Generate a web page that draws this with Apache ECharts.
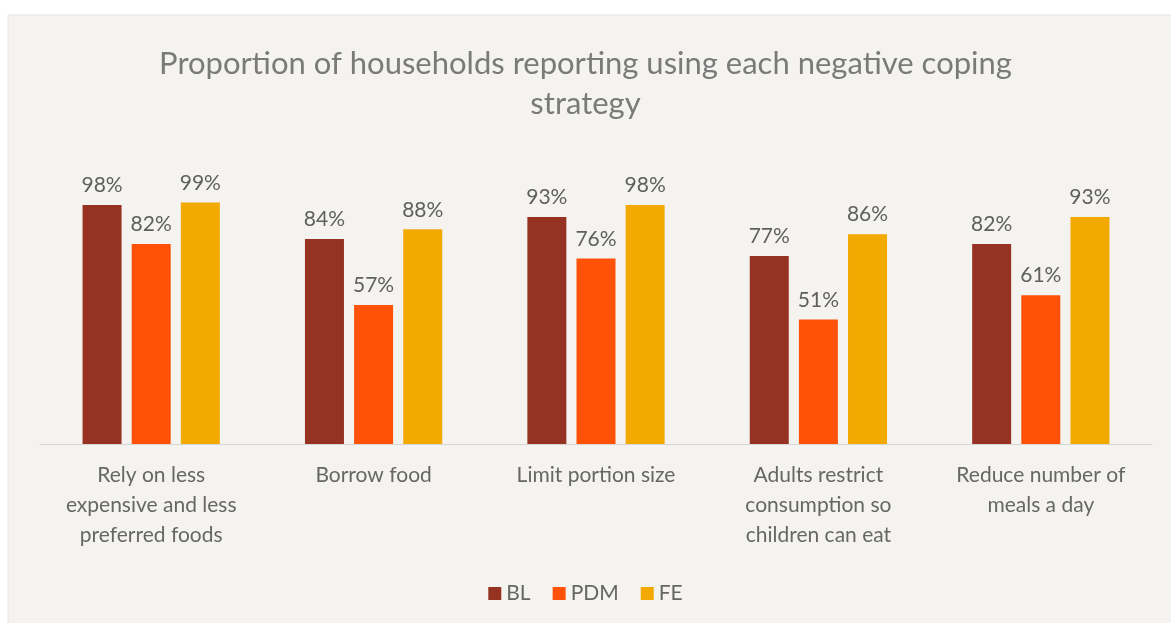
<!DOCTYPE html>
<html>
<head>
<meta charset="utf-8">
<script src="https://cdn.jsdelivr.net/npm/echarts@6/dist/echarts.min.js"></script>
<style>
  html, body { margin: 0; padding: 0; background: #ffffff; }
  #chart { width: 1171px; height: 623px; }
</style>
</head>
<body>
<div id="chart"></div>
<script>
// Coping strategies and the share of households using each (percent)
const categories = [
  'Rely on less\nexpensive and less\npreferred foods',
  'Borrow food',
  'Limit portion size',
  'Adults restrict\nconsumption so\nchildren can eat',
  'Reduce number of\nmeals a day'
];
const seriesNames = ['BL', 'PDM', 'FE'];
const blValues = [98, 84, 93, 77, 82];
const pdmValues = [82, 57, 76, 51, 61];
const feValues = [99, 88, 98, 86, 93];
const seriesColors = ['#963222', '#ff5208', '#f2a900'];

const FONT = 'Lato, "Open Sans", sans-serif';
const chart = echarts.init(document.getElementById('chart'), null, { renderer: 'canvas' });

const valueSets = [blValues, pdmValues, feValues];
const series = valueSets.map((vals, i) => ({
  name: seriesNames[i],
  type: 'bar',
  data: vals,
  barWidth: 39,
  barGap: '26%',
  itemStyle: { color: seriesColors[i] },
  label: {
    show: true,
    position: 'top',
    distance: 9,
    formatter: '{c}%',
    color: '#5f5f5f',
    fontFamily: FONT,
    fontSize: 21
  }
}));

chart.setOption({
  backgroundColor: '#ffffff',
  graphic: [{
    type: 'rect',
    z: -10,
    silent: true,
    shape: { x: 8, y: 15, width: 1171, height: 623 },
    style: { fill: '#f4f3f0', stroke: '#e6e5e2', lineWidth: 1 }
  }],
  title: {
    text: 'Proportion of households reporting using each negative coping\nstrategy',
    left: 'center',
    top: 39,
    textStyle: {
      fontFamily: FONT,
      fontSize: 31,
      fontWeight: 'normal',
      color: '#7a7a7a',
      lineHeight: 40,
      align: 'center'
    }
  },
  legend: {
    data: seriesNames,
    bottom: 14,
    left: 'center',
    icon: 'rect',
    itemWidth: 13,
    itemHeight: 13,
    itemGap: 22,
    textStyle: { fontFamily: FONT, fontSize: 21, color: '#666666' }
  },
  grid: { left: 40, right: 19, top: 200, bottom: 179 },
  xAxis: {
    type: 'category',
    data: categories,
    axisLine: { lineStyle: { color: '#d6d6d6', width: 1 } },
    axisTick: { show: false },
    axisLabel: {
      interval: 0,
      margin: 16,
      fontFamily: FONT,
      fontSize: 21,
      lineHeight: 30,
      color: '#666666'
    }
  },
  yAxis: {
    type: 'value',
    min: 0,
    max: 100,
    show: false,
    splitLine: { show: false }
  },
  series: series
});
</script>
</body>
</html>
